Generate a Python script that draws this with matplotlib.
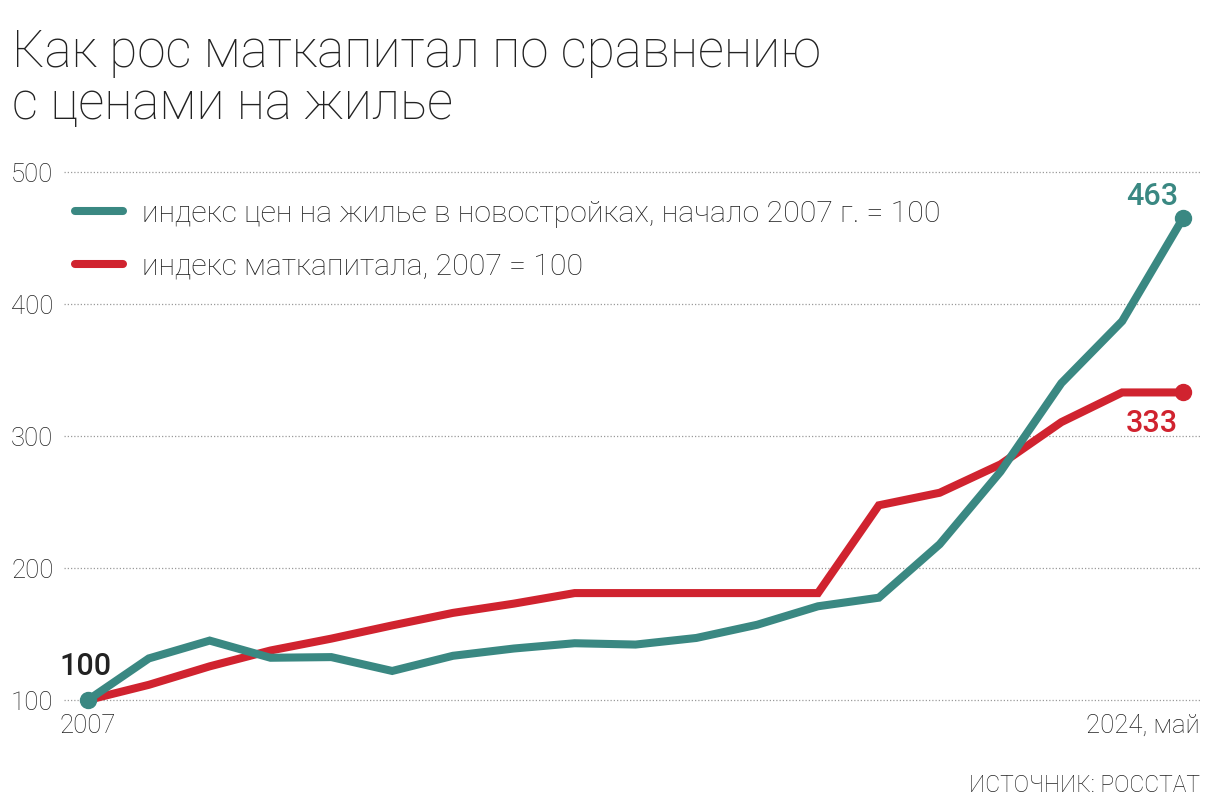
import matplotlib
matplotlib.use("Agg")
import matplotlib.pyplot as plt
from matplotlib.lines import Line2D
from matplotlib.transforms import ScaledTranslation

# index of house prices in new buildings (start of 2007 = 100) and maternity capital index (2007 = 100)
periods = ["начало 2007"] + [str(y) for y in range(2007, 2024)] + ["май 2024"]
housing = [100, 131.5, 145, 132, 132.5, 122, 133.5, 139, 143, 142, 147, 157, 171, 177.5,
           218, 273, 340, 387, 465]
matcap = [100, 111.5, 125.5, 137.5, 146.5, 156.5, 166, 173, 181, 181, 181, 181, 181, 247.5,
          257, 278.5, 310.5, 333, 333]
yticks = [100, 200, 300, 400, 500]
xlabels = ["2007", "2024, май"]
names = ["индекс цен на жилье в новостройках, начало 2007 г. = 100",
         "индекс маткапитала, 2007 = 100"]
end_labels = ["463", "333"]

TEAL = "#3a8882"
RED = "#d0232f"
INK = "#222222"
FONT = ["Roboto", "DejaVu Sans"]
plt.rcParams["font.family"] = FONT

W, H = 1217, 802
fig = plt.figure(figsize=(W / 100, H / 100), dpi=100)
# axes box in pixels: gridlines run 64..1200, values 100..500 sit at y 700..172
ax = fig.add_axes([64 / W, (H - 700) / H, (1200 - 64) / W, 528 / H])
x = list(range(len(periods)))
px = (1183 - 88) / (len(x) - 1)
ax.set_xlim(-24 / px, x[-1] + 17 / px)
ax.set_ylim(100, 500)

for s in ax.spines.values():
    s.set_visible(False)
ax.set_yticks(yticks)
ax.set_yticklabels([str(v) for v in yticks], fontsize=18.5, fontweight="light", color=INK)
ax.tick_params(axis="y", length=0, pad=53 * 0.72)
for t in ax.get_yticklabels():
    t.set_horizontalalignment("left")
ax.set_xticks([x[0], x[-1]])
ax.set_xticklabels(xlabels, fontsize=18.5, fontweight="light", color=INK)
ax.tick_params(axis="x", length=0, pad=10)
last = ax.get_xticklabels()[-1]
last.set_horizontalalignment("right")
last.set_transform(last.get_transform() + ScaledTranslation(17 / 100, 0, fig.dpi_scale_trans))
ax.grid(axis="y", color="#9a9a9a", linestyle=(0, (1, 1.6)), linewidth=0.9)
for gl in ax.yaxis.get_gridlines():
    gl.set_clip_on(False)
ax.set_axisbelow(True)

for ys, col in [(matcap, RED), (housing, TEAL)]:
    ax.plot(x, ys, color=col, lw=5.8, solid_capstyle="round", solid_joinstyle="miter", clip_on=False)
ax.plot([x[-1]], [matcap[-1]], "o", color=RED, ms=11.5, clip_on=False)
ax.plot([x[0], x[-1]], [housing[0], housing[-1]], "o", color=TEAL, ms=11.5, clip_on=False)

lab = dict(textcoords="offset pixels", ha="center", va="baseline", fontsize=22, fontweight="medium")
ax.annotate(end_labels[0], (x[-1], housing[-1]), xytext=(-31, 13), color=TEAL, **lab)
ax.annotate(end_labels[1], (x[-1], matcap[-1]), xytext=(-31, -40), color=RED, **lab)
ax.annotate(str(int(housing[0])), (x[0], housing[0]), xytext=(-3, 25), color=INK, **lab)

handles = [Line2D([], [], color=TEAL, lw=5.8, solid_capstyle="round"),
           Line2D([], [], color=RED, lw=5.8, solid_capstyle="round")]
leg = fig.legend(handles, names, loc="upper left", bbox_to_anchor=(75 / W, 1 - 200 / H),
                 frameon=False, fontsize=21.8, handlelength=1.6, handletextpad=0.62,
                 labelspacing=0.8, borderpad=0, borderaxespad=0)
for t in leg.get_texts():
    t.set_color(INK)
    t.set_fontweight("light")

fig.text(12 / W, 1 - 28 / H, "Как рос маткапитал по сравнению\nс ценами на жилье",
         fontsize=37, fontweight="light", color=INK, va="top", ha="left", linespacing=1.05)
fig.text(1200 / W, 1 - 792 / H, "ИСТОЧНИК: РОССТАТ", fontsize=16.5, fontweight="light",
         color=INK, ha="right", va="baseline")

fig.savefig("out.png", dpi=100)
